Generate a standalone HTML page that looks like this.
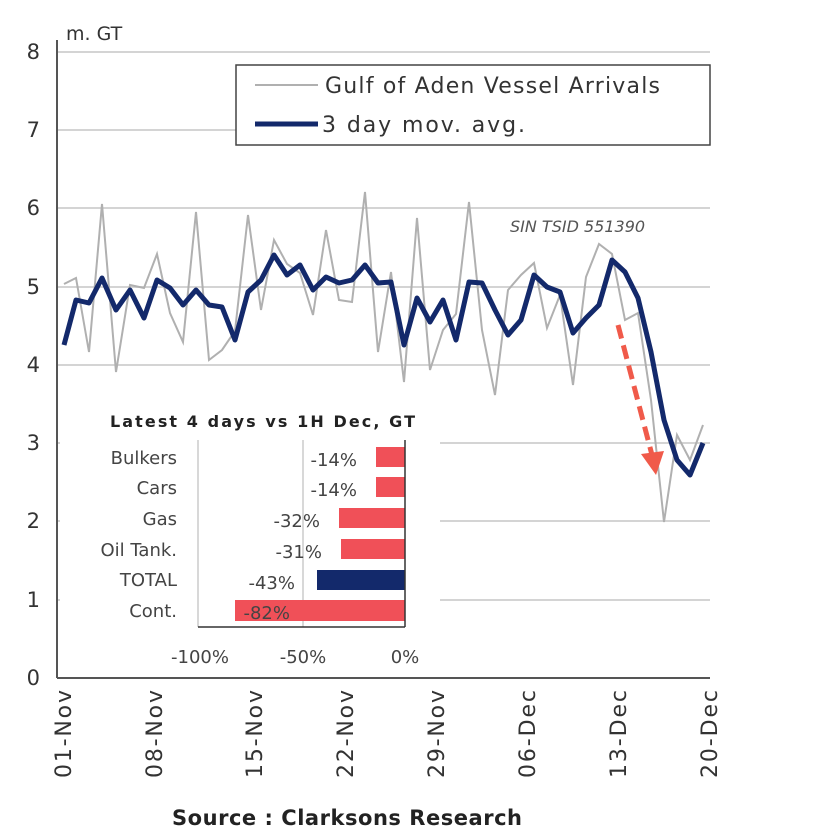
<!DOCTYPE html>
<html><head><style>
html,body{margin:0;padding:0;background:#fff;}
svg{display:block;font-family:"DejaVu Sans","Liberation Sans",sans-serif;}
</style></head><body>
<svg width="831" height="840" viewBox="0 0 831 840" xmlns="http://www.w3.org/2000/svg">
<rect width="831" height="840" fill="#fff"/>
<g stroke="#d4d4d4" stroke-width="2">
<line x1="57" y1="52" x2="710" y2="52"/>
<line x1="57" y1="130" x2="710" y2="130"/>
<line x1="57" y1="208" x2="710" y2="208"/>
<line x1="57" y1="287" x2="710" y2="287"/>
<line x1="57" y1="365" x2="710" y2="365"/>
<line x1="57" y1="443" x2="710" y2="443"/>
<line x1="57" y1="521" x2="710" y2="521"/>
<line x1="57" y1="600" x2="710" y2="600"/>
</g>
<line x1="57" y1="678" x2="710" y2="678" stroke="#555" stroke-width="2"/>
<line x1="57" y1="40" x2="57" y2="678" stroke="#555" stroke-width="2"/>
<g font-size="21" fill="#333" text-anchor="end">
<text x="40" y="59">8</text><text x="40" y="137">7</text><text x="40" y="215">6</text>
<text x="40" y="294">5</text><text x="40" y="372">4</text><text x="40" y="450">3</text>
<text x="40" y="528">2</text><text x="40" y="607">1</text><text x="40" y="685">0</text>
</g>
<text x="66" y="40" font-size="19" fill="#333">m. GT</text>
<polyline fill="none" stroke="#b0b0b0" stroke-width="2" points="64,284 76,278 89,352 102,204 116,372 130,285 144,288 157,254 170,313 183,342 196,212 209,360 222,350 235,331 248,215 261,310 274,240 287,264 300,273 313,315 326,230 339,300 352,302 365,192 378,352 391,272 404,382 417,218 430,370 443,330 456,314 469,202 482,330 495,395 508,290 521,275 534,263 547,328 560,295 573,385 586,277 599,244 612,254 625,320 638,313 651,400 664,522 677,435 690,460 703,425"/>
<polyline fill="none" stroke="#13296b" stroke-width="5" stroke-linejoin="round" points="64,345 76,300 89,303 102,278 116,310 130,290 144,318 157,280 170,288 183,305 196,290 209,305 222,307 235,340 248,292 261,280 274,255 287,275 300,265 313,290 326,277 339,283 352,280 365,265 378,283 391,282 404,345 417,298 430,322 443,300 456,340 469,282 482,283 495,310 508,335 521,320 534,275 547,287 560,292 573,333 586,318 599,305 612,260 625,272 638,298 651,352 664,420 677,460 690,475 703,443"/>
<line x1="618" y1="325" x2="652" y2="455" stroke="#f05a4a" stroke-width="5" stroke-dasharray="14,7"/>
<polygon points="641,454 664,451 656,475" fill="#f05a4a"/>
<text x="510" y="232" font-size="16" font-style="italic" fill="#555">SIN TSID 551390</text>
<rect x="236" y="65" width="474" height="80" fill="#fff" stroke="#444" stroke-width="1.5"/>
<line x1="255" y1="85" x2="318" y2="85" stroke="#b0b0b0" stroke-width="2"/>
<line x1="255" y1="124" x2="318" y2="124" stroke="#13296b" stroke-width="5"/>
<text x="325" y="93" font-size="22" fill="#333" textLength="335">Gulf of Aden Vessel Arrivals</text>
<text x="322" y="132" font-size="22" fill="#333" textLength="203">3 day mov. avg.</text>
<rect x="60" y="400" width="380" height="272" fill="#fff"/>
<text x="110" y="427" font-size="16" font-weight="bold" fill="#222" textLength="305">Latest 4 days vs 1H Dec, GT</text>
<line x1="303" y1="440" x2="303" y2="627" stroke="#ccc" stroke-width="1.5"/>
<line x1="198" y1="440" x2="198" y2="627" stroke="#ccc" stroke-width="1.5"/>
<g fill="#f05058">
<rect x="376" y="447" width="29" height="20"/>
<rect x="376" y="477" width="29" height="20"/>
<rect x="339" y="508" width="66" height="20"/>
<rect x="341" y="539" width="64" height="20"/>
<rect x="235" y="600" width="170" height="21"/>
</g>
<rect x="317" y="570" width="88" height="20" fill="#13296b"/>
<line x1="405" y1="440" x2="405" y2="627" stroke="#333" stroke-width="1.5"/>
<line x1="198" y1="627" x2="405" y2="627" stroke="#333" stroke-width="1.5"/>
<g font-size="18" fill="#444" text-anchor="end">
<text x="177" y="464">Bulkers</text><text x="177" y="494">Cars</text>
<text x="177" y="525">Gas</text><text x="177" y="556">Oil Tank.</text>
<text x="177" y="586">TOTAL</text><text x="177" y="617">Cont.</text>
<text x="357" y="466">-14%</text><text x="357" y="496">-14%</text>
<text x="320" y="527">-32%</text><text x="322" y="558">-31%</text>
<text x="295" y="589">-43%</text><text x="290" y="619">-82%</text>
</g>
<g font-size="18" fill="#444" text-anchor="middle">
<text x="200" y="663">-100%</text><text x="303" y="663">-50%</text><text x="405" y="663">0%</text>
</g>
<g font-size="22" fill="#333" text-anchor="end">
<text transform="translate(71,690) rotate(-90)" textLength="88">01-Nov</text>
<text transform="translate(162,690) rotate(-90)" textLength="88">08-Nov</text>
<text transform="translate(262,690) rotate(-90)" textLength="88">15-Nov</text>
<text transform="translate(353,690) rotate(-90)" textLength="88">22-Nov</text>
<text transform="translate(444,690) rotate(-90)" textLength="88">29-Nov</text>
<text transform="translate(535,690) rotate(-90)" textLength="88">06-Dec</text>
<text transform="translate(626,690) rotate(-90)" textLength="88">13-Dec</text>
<text transform="translate(717,690) rotate(-90)" textLength="88">20-Dec</text>
</g>
<text x="172" y="825" font-size="21" font-weight="bold" fill="#222" textLength="350">Source : Clarksons Research</text>
</svg>
</body></html>
